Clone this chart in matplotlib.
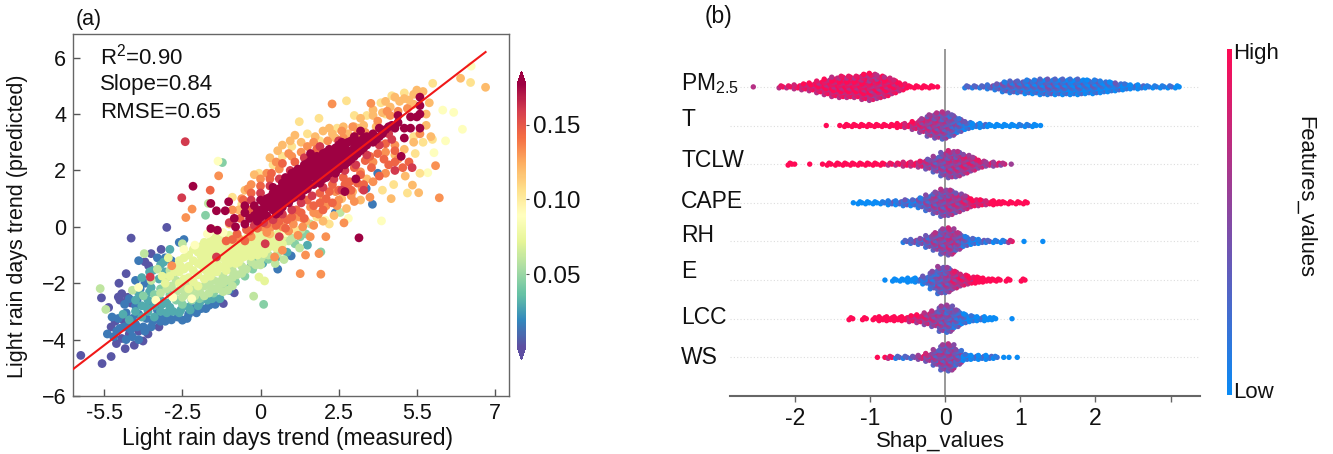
import numpy as np
import matplotlib
matplotlib.use("Agg")
import matplotlib.pyplot as plt
from matplotlib.colors import LinearSegmentedColormap, Normalize

plt.rcParams['font.family'] = ['Liberation Sans', 'DejaVu Sans']
plt.rcParams['mathtext.default'] = 'regular'

# ---------- panel (a): points grouped by point-density level ----------
density_levels = [0.004, 0.015, 0.03, 0.045, 0.06, 0.072, 0.088, 0.105, 0.12, 0.132, 0.145, 0.16, 0.177]

pts_purple = [(-5.75,-4.56),(-5.07,-4.85),(-4.78,-4.6),(-5.09,-2.52),(-4.86,-2.86),(-4.53,-2.0),(-4.3,-1.66),(-4.14,-.4),
 (-3.0,-.02),(-3.18,-.8),(-3.5,-.95),(-3.7,-1.24),(-3.58,-1.38),(-4.55,-2.49),(-4.44,-2.37),(-4.78,-3.55),(-4.61,-4.14),
 (-4.33,-4.32),(-4.04,-4.2),(-3.76,-4.05),(-4.44,-3.96),(-4.2,-3.8),(-3.9,-3.7),(-3.6,-3.8),(-3.25,-3.55),(-4.65,-3.35),
 (-4.4,-3.3),(-0.84,-2.34),(-1.19,-2.72),(-4.25,-2.5),(-4.5,-2.6),(-4.15,-2.7)]
pts_blue = [(-4.6,-3.7),(-4.3,-4.0),(-4.1,-3.9),(-3.9,-4.0),(-4.7,-3.9),(-4.5,-3.6),(-4.25,-3.55),(-4.0,-3.45),(-3.75,-3.55),
 (-3.5,-3.55),(-3.3,-3.25),(-3.05,-3.35),(-2.85,-3.3),(-2.5,-3.31),(-2.16,-2.9),(-1.64,-2.78),(-1.45,-2.55),(-1.0,-2.25),
 (-1.9,-2.9),(-2.3,-3.1),(-4.0,-1.9),(-3.85,-2.2),(-3.95,-2.6),(-3.7,-2.0),(-3.9,-1.2),(-3.3,-1.1),(-3.05,-1.1),(-2.85,-1.2),
 (-2.6,-.55),(-2.45,-.45),(.98,-1.03),(3.58,.8),(2.39,.5),(3.38,1.36),(3.75,1.9),(.55,-1.5),(-.3,-1.4),
 (-4.9,-3.8),(-4.55,-3.25),(-4.35,-3.55),(-4.15,-3.65),(-3.95,-3.55),(-3.7,-3.7),(-3.45,-3.35),(-3.2,-3.35),(-3.65,-3.25),(-4.1,-3.25),
 (-4.3,-3.05),(-4.0,-2.8),(-4.2,-2.55),(-4.35,-2.75),(-4.75,-3.2),(-3.9,-3.1),(-2.65,-3.2),(-2.35,-3.25),(-2.05,-3.05),(-1.75,-2.9),
 (-1.45,-2.75),(-3.55,-2.75),(-3.3,-2.95),(-3.1,-3.25),(-2.95,-3.15)]
pts_teal = [(-4.4,-3.1),(-4.2,-3.3),(-4.0,-3.0),(-3.8,-3.2),(-3.6,-3.0),(-3.4,-3.2),(-3.2,-3.0),(-3.0,-3.05),(-2.8,-3.0),
 (-2.6,-3.05),(-2.3,-2.85),(-2.0,-2.8),(-3.8,-2.8),(-3.6,-2.6),(-3.4,-2.8),(-3.2,-2.6),(-3.0,-2.7),(-4.0,-2.6),(-3.55,-2.3),
 (-1.7,-2.6),(-1.3,-2.55),(-3.45,-1.55),(-3.1,-1.25),(1.5,-.65),(.07,-1.3),(.5,-1.1),(.85,-.9),
 (-3.3,-2.5),(-3.5,-2.15),(-3.9,-2.35),(-3.65,-2.85),(-3.15,-2.75),(-2.9,-2.85),(-2.55,-2.95),(-2.25,-2.95),(-1.95,-2.7),(-1.55,-2.55),
 (-3.25,-1.85),(-3.05,-1.6),(-3.8,-1.8),(-3.55,-1.6),(-3.2,-1.35),(-2.9,-.8)]
pts_tealgreen = [(-3.4,-2.4),(-3.2,-2.2),(-2.9,-2.4),(-2.7,-2.6),(-2.5,-2.75),(-2.2,-2.6),(-1.95,-2.55),(-3.75,-2.45),(-2.8,-1.7),
 (-1.5,-2.35),(-1.1,-2.1),(-.8,-1.95),(-.5,-1.75),(-.25,-1.5),(1.27,-.35),(1.93,-.89),(.1,-2.75),(-1.22,2.28),(-1.76,.41),
 (-.25,-1.2),(.25,-1.15),(.65,-.75),(1.1,-.6),(1.45,-.25)]
pts_green = [(-3.0,-2.2),(-3.0,-1.8),(-2.7,-2.3),(-2.7,-1.9),(-2.4,-2.4),(-2.4,-2.05),(-2.1,-2.45),(-2.1,-2.15),(-1.8,-2.1),
 (-1.8,-2.45),(-1.5,-1.9),(-1.5,-2.2),(-1.2,-1.75),(-1.2,-2.0),(-1.2,-2.3),(-.9,-1.55),(-.9,-1.8),(-.9,-2.1),(-.6,-1.4),(-.6,-1.65),
 (-.3,-1.25),(0,-1.15),(0,-1.35),(-5.13,-2.19),(-4.95,-2.93),(-4.1,-2.25),(-3.72,-.95),(-1.67,.83),(2.55,.51),(-.22,-2.46),
 (.75,-1.16),(.47,-1.3),(.9,-.5),(1.3,-.1),(1.6,.1),(-3.3,-1.5),(-3.5,-1.9),(-2.5,-.6),
 (-2.85,-2.1),(-2.55,-2.2),(-2.25,-2.35),(-1.95,-2.3),(-1.65,-2.05),(-1.35,-1.95),(-1.05,-1.9),(-.75,-1.7),(-.45,-1.5),(-.15,-1.35),
 (-3.2,-2.35),(-2.9,-1.55),(-2.5,-2.5),(-1.65,-2.35),(-1.35,-2.2),(-1.05,-2.25),(.25,-1.0),(.05,-1.05),(.55,-.95),(1.0,-.4),(1.25,-.75)]
pts_yellowgreen = [(-2.6,-1.2),(-2.6,-1.6),(-2.6,-2.0),(-2.3,-1.0),(-2.3,-1.4),(-2.3,-1.8),(-2.3,-2.2),(-2.0,-.9),(-2.0,-1.3),(-2.0,-1.7),
 (-2.0,-2.1),(-1.8,-.55),(-1.8,-.85),(-1.8,-1.15),(-1.8,-1.5),(-1.8,-1.85),(-1.6,-.5),(-1.6,-.8),(-1.6,-1.1),(-1.6,-1.4),(-1.6,-1.75),
 (-1.4,-.3),(-1.4,-.6),(-1.4,-.9),(-1.4,-1.3),(-1.4,-1.6),(-1.2,-.5),(-1.2,-.8),(-1.2,-1.1),(-1.2,-1.45),(-1.0,-.3),(-1.0,-.7),
 (-1.0,-1.0),(-1.0,-1.3),(-.8,-.7),(-.8,-1.0),(-.8,-1.3),(-.6,-.55),(-.6,-.85),(-.6,-1.1),(-.4,-.35),(-.4,-.65),(-.4,-.95),(-.2,-.3),
 (-.2,-.6),(-.2,-.9),(0,-.25),(0,-.55),(0,-.85),(.2,-.2),(.2,-.5),(.2,-.8),(.4,-.3),(.4,-.6),(.6,-.45),(.6,-.15),(.13,-1.92),(-.05,-1.78),
 (-2.95,-1.1),(-3.15,-1.75),(-2.7,-1.4),
 (-2.45,-1.1),(-2.45,-1.5),(-2.45,-1.85),(-2.15,-.8),(-2.15,-1.2),(-2.15,-1.55),(-2.15,-1.95),(-1.9,-.7),(-1.9,-1.05),(-1.9,-1.35),(-1.7,-.65),
 (-1.7,-1.0),(-1.7,-1.3),(-1.7,-1.6),(-1.5,-.45),(-1.5,-.7),(-1.5,-1.0),(-1.5,-1.3),(-1.5,-1.6),(-1.3,-.45),(-1.3,-.75),(-1.3,-1.05),(-1.3,-1.4),
 (-1.1,-.65),(-1.1,-.95),(-1.1,-1.25),(-1.1,-1.55),(-.9,-.55),(-.9,-.85),(-.9,-1.2),(-.7,-.7),(-.7,-1.0),(-.7,-1.25),(-.5,-.45),(-.5,-.75),(-.5,-1.05),
 (-.3,-.5),(-.3,-.8),(-.3,-1.05),(-.1,-.4),(-.1,-.7),(-.1,-1.0),(.1,-.35),(.1,-.65),(.1,-.95),(.3,-.4),(.3,-.7),(.5,-.5),(.5,-.75),(.7,-.35),(.7,-.6),
 (-2.75,-1.6),(-2.9,-1.75),(-3.05,-2.0),(-2.55,-1.4)]
pts_paleyellow = [(-2.1,-.65),(-1.7,-.25),(-1.5,-.1),(-1.2,-.2),(-2.45,-.8),(-2.8,-2.5),(-1.36,2.33),(2.81,.3),(2.07,.24),(3.87,.21),
 (6.74,5.7),(6.46,3.46),(6.18,4.06),(5.83,4.14),(5.92,3.05),(5.55,2.63),(5.35,1.92),(.8,-.2),(-3.9,-2.15),(-3.35,-2.6),(-2.2,-2.55)]
pts_cream = [(6.72,5.12),(5.51,5.09),(2.75,4.47),(1.87,3.85),(1.24,3.73),(5.2,3.0),(4.9,3.2),(5.5,3.1),(4.95,2.6),(3.9,1.3),(4.26,1.5),
 (3.0,3.95),(3.4,3.95),(3.85,4.4),(4.2,4.65),(4.6,4.75),(4.0,4.0),(1.5,3.3),(1.9,3.05),(2.45,3.5),(.7,2.5),(1.0,2.85),(.4,2.2),(-.05,1.9),
 (-.6,.8),(-.9,1.05),(5.1,1.9),(4.7,1.2),(1.1,-.1),(1.8,.35),(2.2,.1)]
pts_paleorange = [(6.4,5.27),(7.2,4.95),(5.06,1.21),(4.86,1.48),(4.63,1.8),(4.18,1.0),(5.0,4.85),(4.75,4.5),(4.45,4.45),(4.15,4.25),(3.9,4.05),
 (3.6,3.95),(3.3,3.6),(3.0,3.55),(2.65,3.55),(2.3,3.3),(2.0,3.4),(1.1,3.25),(.7,2.9),(.3,2.45),(-.2,1.85),(-.5,1.3),(-.7,.6),(-1.0,.1),
 (2.6,1.0),(2.95,1.25),(3.4,1.7),(1.45,.2),(.8,.3),(.3,-.25),(-.1,.05),(5.3,3.6),(5.45,3.2),
 (3.2,3.85),(3.6,4.15),(4.0,4.45),(4.3,4.6),(4.6,4.55),(4.9,4.7),(4.9,4.35),(3.7,3.55),(3.15,3.5),(2.8,3.3),(2.4,3.15),(2.2,3.5),(1.75,3.2),
 (1.3,3.0),(.95,3.05),(.55,2.7),(5.2,4.8),(5.4,4.4),(5.3,4.0),(4.9,3.0),(4.6,2.75),(4.3,2.55),(2.0,.2),(2.35,.4),(2.75,.65),(3.2,.95)]
pts_orange = [(2.29,4.36),(3.53,4.38),(5.6,2.17),(5.72,1.03),(-1.34,1.81),(-2.19,.63),(-2.39,.33),(-2.84,-1.38),(1.27,-1.66),(1.93,-1.68),
 (1.44,-1.0),(1.87,-.95),(.7,-.83),(.45,-1.07),(2.67,.14),(2.09,-.35),(1.59,-.35),(.9,-.15),(.35,.0),(.05,.0),(1.2,.35),(1.6,.7),(2.0,.95),
 (2.4,1.25),(2.8,1.55),(3.2,1.95),(3.6,2.3),(4.0,2.65),(4.3,2.9),(3.5,1.05),(3.0,.9),(2.45,.75),(1.85,.45),(1.35,.0),(.6,2.05),(.2,1.9),(-.3,1.5),
 (1.0,2.5),(1.5,2.85),(2.65,3.15),(3.1,3.3),(4.15,3.95),(4.7,4.2),(5.1,3.3),
 (.7,.0),(1.05,.1),(1.35,.3),(1.7,.5),(2.1,.75),(2.5,.95),(2.9,1.1),(3.25,1.35),(3.6,1.6),(4.0,1.9),(4.4,2.4),(1.2,-.3),(1.7,.05),(.2,-.2),(-.3,-.35),
 (-.7,-.4),(.0,1.7),(-.4,1.35),(.5,2.3),(.9,2.6),(1.3,2.65),(1.7,3.0),(2.15,3.05),(2.6,3.4),(2.95,3.55),(3.35,3.35),(3.75,3.75),(4.05,4.1),(4.4,4.1),
 (-.6,1.0),(-.9,.6)]
pts_orangered = [(.5,.05),(.85,.25),(1.15,.6),(1.5,.95),(1.9,1.2),(2.3,1.5),(2.65,1.75),(3.0,2.1),(3.35,2.35),(3.75,2.6),(4.1,2.2),(4.3,2.3),
 (3.8,1.8),(3.3,1.5),(2.9,1.3),(2.0,.6),(-.3,1.2),(.0,1.45),(.3,1.7),(-.15,.2),(-.45,-.1),(-.75,-.25),(-.9,-.45),(-.5,-.5),(-1.1,-.5),
 (.35,1.9),(.7,2.25),(1.1,2.3),(1.8,2.75),(-1.61,1.3),(2.3,.85),(4.55,2.1),(4.75,2.3),
 (.2,.1),(.6,.2),(1.0,.35),(1.3,.5),(1.7,.75),(2.1,1.0),(2.5,1.3),(2.85,1.6),(3.2,1.85),(3.55,2.1),(3.95,2.4),(4.3,2.7),(.8,-.05),(1.4,.3),(1.9,.85),
 (2.2,1.25),(2.7,1.5),(3.1,1.55),(3.5,2.5),(4.0,2.95),(-.55,.95),(-.3,.6),(-.65,.3),(-.35,-.15),(-.1,-.05)]
pts_red = [(-2.41,3.02),(-2.52,1.03),(-1.41,-1.07),(-3.53,-1.78),(-1.0,.15),(-.2,.05),(.1,.15),(.4,.25),(.7,.45),(1.0,.6),(1.3,.85),(1.65,1.1),
 (2.0,1.4),(2.35,1.7),(2.7,2.0),(3.05,2.2),(3.4,2.55),(3.8,2.9),(-.3,.95),(.0,1.2),(.3,1.45),(.6,1.7),(.95,2.0),(1.4,2.45),(1.9,2.85),
 (2.5,3.05),(3.1,2.95),(4.2,3.1),(3.3,1.3),(2.6,1.3),(.15,-.6),(.6,-.35),(4.3,2.0),(4.1,3.3),(4.85,2.1)]
pts_darkred = [(-1.59,.83),(-1.41,.57),(-1.13,.57),(-.84,.3),(-1.59,-.06),(-1.38,-.12),(-1.02,.89),(3.15,-.39),(-2.16,1.44),(-.8,.0),(-.5,.1),(-.5,.5),
 (-.5,.75),(-.2,.4),(-.2,.75),(0,.35),(0,.6),(0,.95),(.2,.4),(.2,.7),(.2,1.0),(.4,.6),(.4,.9),(.4,1.2),(.4,1.4),(.6,.55),(.6,.8),(.6,1.1),(.6,1.35),
 (.8,.9),(.8,1.2),(.8,1.5),(.8,1.75),(1.0,1.0),(1.0,1.3),(1.0,1.6),(1.0,1.9),(1.2,1.2),(1.2,1.5),(1.2,1.75),(1.2,2.05),(1.4,1.3),(1.4,1.6),(1.4,1.9),
 (1.4,2.2),(1.6,1.5),(1.6,1.8),(1.6,2.05),(1.6,2.35),(1.8,1.7),(1.8,1.95),(1.8,2.25),(1.8,2.5),(2.0,1.7),(2.0,2.0),(2.0,2.3),(2.0,2.6),(2.2,1.9),
 (2.2,2.15),(2.2,2.45),(2.2,2.75),(2.4,1.9),(2.4,2.2),(2.4,2.5),(2.4,2.8),(2.6,2.2),(2.6,2.45),(2.6,2.75),(2.6,3.0),(2.8,2.3),(2.8,2.6),(2.8,3.0),
 (3.0,2.5),(3.0,2.8),(3.0,3.2),(3.2,2.7),(3.2,3.05),(3.2,3.4),(3.4,2.9),(3.4,3.2),(3.6,3.0),(3.6,3.3),(3.8,3.2),(3.8,3.5),(4.0,3.45),(4.3,3.5),
 (4.6,3.5),(4.6,3.15),(4.4,3.7),(4.4,3.95),(4.8,3.9),(4.8,3.5),(5.1,3.5),(5.1,4.0),(5.1,4.6),(5.1,4.3),(5.0,3.9),(4.5,2.5),(3.05,1.7),(2.7,1.25),(1.6,2.6),
 (-.35,.3),(-.1,.55),(-.1,.2),(.1,.55),(.1,.85),(.3,.75),(.3,1.05),(.5,.45),(.5,.75),(.5,1.0),(.5,1.25),(.7,.7),(.7,1.0),(.7,1.25),(.7,1.55),(.9,.85),(.9,1.1),
 (.9,1.4),(.9,1.7),(1.1,1.05),(1.1,1.35),(1.1,1.65),(1.1,1.95),(1.3,1.1),(1.3,1.4),(1.3,1.7),(1.3,2.0),(1.5,1.35),(1.5,1.65),(1.5,1.95),(1.5,2.25),(1.7,1.5),
 (1.7,1.8),(1.7,2.15),(1.7,2.4),(1.9,1.55),(1.9,1.85),(1.9,2.15),(1.9,2.4),(2.1,1.75),(2.1,2.05),(2.1,2.35),(2.1,2.65),(2.3,2.0),(2.3,2.3),(2.3,2.6),(2.5,2.05),
 (2.5,2.35),(2.5,2.65),(2.5,2.9),(2.7,2.2),(2.7,2.55),(2.7,2.85),(2.9,2.4),(2.9,2.7),(2.9,3.05),(3.1,2.6),(3.1,2.95),(3.3,2.8),(3.3,3.15),(3.5,3.05),(3.7,3.1),
 (3.9,3.3),(4.1,3.55),(4.2,3.6)]
point_groups = [pts_purple, pts_blue, pts_teal, pts_tealgreen, pts_green, pts_yellowgreen, pts_paleyellow, pts_cream,
                pts_paleorange, pts_orange, pts_orangered, pts_red, pts_darkred]

fit_x = [-6.0, 7.2]
fit_y = [-5.05, 6.2]
x_tick_pos = [-5, -2.5, 0, 2.5, 5, 7.5]
x_tick_labels = ['-5.5', '-2.5', '0', '2.5', '5.5', '7']
y_ticks = [-6, -4, -2, 0, 2, 4, 6]
stats_lines = ['R$^2$=0.90', 'Slope=0.84', 'RMSE=0.65']

# ---------- panel (b): SHAP swarm per feature, (bin centre, dots in bin, share of high-value dots x10) ----------
feature_names = ['PM$_{2.5}$', 'T', 'TCLW', 'CAPE', 'RH', 'E', 'LCC', 'WS']
swarm_pm = [(-2.55,1,9),(-2.17,2,9),(-2.07,2,9),(-1.97,3,9),(-1.87,4,9),(-1.77,5,9),(-1.67,7,9),(-1.57,9,9),(-1.47,11,9),(-1.37,12,9),(-1.27,12,9),
 (-1.17,12,9),(-1.07,14,9),(-.97,15,8),(-.87,13,8),(-.77,11,9),(-.67,8,9),(-.57,5,9),(-.47,2,10),(-.37,2,10),(-.27,2,10),(-.17,2,10),(-.1,1,10),
 (.3,2,3),(.4,2,3),(.5,2,3),(.6,3,3),(.7,4,3),(.8,6,3),(.9,7,3),(1.0,7,3),(1.1,8,2),(1.2,8,2),(1.3,9,2),(1.4,9,3),(1.5,9,2),(1.6,9,2),(1.7,9,1),
 (1.8,9,2),(1.9,8,1),(2.0,8,2),(2.1,7,1),(2.2,6,1),(2.3,5,2),(2.4,4,1),(2.5,3,1),(2.6,3,1),(2.7,2,1),(2.8,2,1),(2.9,2,1),(3.0,2,2),(3.1,2,0)]
swarm_t = [(-1.58,1,10),(-1.4,1,10),(-1.3,2,10),(-1.2,2,10),(-1.1,2,10),(-1.0,2,10),(-.9,2,10),(-.8,2,10),(-.7,2,10),(-.6,3,10),(-.5,3,9),(-.4,5,8),
 (-.3,8,7),(-.2,12,6),(-.1,14,6),(0,15,5),(.1,12,4),(.2,8,3),(.3,5,2),(.4,3,1),(.5,3,1),(.6,2,0),(.7,2,0),(.8,2,0),(.9,2,0),(1.0,2,1),(1.1,2,1),(1.2,2,0),(1.27,1,0)]
swarm_tclw = [(-2.05,2,10),(-2.0,1,10),(-1.8,1,10),(-1.63,1,10),(-1.53,2,10),(-1.42,2,10),(-1.32,2,10),(-1.22,2,10),(-1.12,2,10),(-1.02,2,10),(-.92,2,10),
 (-.82,2,10),(-.72,2,9),(-.62,2,9),(-.52,3,9),(-.42,3,9),(-.32,4,8),(-.22,6,6),(-.12,9,5),(-.02,13,5),(.08,15,6),(.18,14,6),(.28,11,7),(.38,8,7),(.48,5,7),(.58,3,7),(.68,3,7),(.78,2,7),(.88,1,8)]
swarm_cape = [(-1.22,1,0),(-1.12,2,0),(-1.02,2,0),(-.92,2,0),(-.82,2,1),(-.72,3,2),(-.62,3,2),(-.52,4,3),(-.42,4,2),(-.32,6,3),(-.22,9,4),(-.12,12,5),(-.02,15,5),
 (.08,14,6),(.18,11,6),(.28,8,7),(.38,5,9),(.48,4,9),(.58,3,9),(.68,3,10),(.78,2,10),(.88,2,10),(.98,2,10),(1.08,2,10)]
swarm_rh = [(-.52,2,3),(-.42,3,4),(-.32,4,4),(-.22,7,4),(-.12,10,5),(-.02,14,5),(.08,15,6),(.18,10,5),(.28,6,3),(.38,4,2),(.48,3,2),(.58,2,3),(.68,2,1),(.78,2,1),(.88,2,8),(1.05,1,0),(1.3,1,0)]
swarm_e = [(-.8,1,0),(-.66,2,0),(-.56,2,0),(-.46,3,0),(-.36,3,1),(-.26,5,2),(-.16,10,3),(-.06,15,4),(.04,14,5),(.14,10,7),(.24,7,8),(.34,5,9),(.44,4,10),(.54,3,10),(.64,2,10),(.72,2,10),(.85,2,10),(1.05,2,10)]
swarm_lcc = [(-1.24,2,10),(-1.06,2,10),(-.92,2,10),(-.84,3,10),(-.74,3,10),(-.64,3,10),(-.54,3,10),(-.44,4,9),(-.34,5,8),(-.24,7,7),(-.14,9,6),(-.04,14,5),(.06,15,4),(.16,10,3),(.26,6,2),(.36,4,1),(.46,3,1),(.56,3,0),(.66,2,0),(.89,1,0)]
swarm_ws = [(-.9,1,10),(-.8,1,10),(-.72,2,9),(-.62,2,3),(-.52,2,3),(-.42,2,4),(-.32,3,7),(-.22,5,6),(-.12,9,5),(-.02,14,5),(.08,15,5),(.18,9,4),(.28,4,1),(.38,3,1),(.48,3,1),(.58,3,1),(.68,2,1),(.78,1,0),(.85,1,0),(.96,1,0)]
swarms = [swarm_pm, swarm_t, swarm_tclw, swarm_cape, swarm_rh, swarm_e, swarm_lcc, swarm_ws]
shap_ticks = [-2, -1, 0, 1, 2, 3]
shap_tick_labels = ['-2', '-1', '0', '1', '2', '']

W, H = 1333, 454
fig = plt.figure(figsize=(W / 100, H / 100), dpi=100)


def axes_px(l, t, r, b):
    return fig.add_axes([l / W, 1 - b / H, (r - l) / W, (b - t) / H])


def fig_text(x, y, s, **kw):
    return fig.text(x / W, 1 - y / H, s, **kw)


INK = '#111111'

# ---------- (a) ----------
ax = axes_px(73, 34, 509, 396)
cmap_a = plt.get_cmap('Spectral_r')
norm_a = Normalize(0.0013, 0.177)
for group, level in zip(point_groups, density_levels):
    xs = [p[0] for p in group]
    ys = [p[1] for p in group]
    ax.scatter(xs, ys, s=40, c=[level] * len(group), cmap=cmap_a, norm=norm_a, linewidths=0, zorder=2)
ax.plot(fit_x, fit_y, color='#f01818', lw=1.5, zorder=3)
ax.set_xlim(-6.0, 7.95)
ax.set_ylim(-6, 6.84)
ax.set_xticks(x_tick_pos)
ax.set_xticklabels(x_tick_labels)
ax.set_yticks(y_ticks)
ax.tick_params(direction='in', length=5, width=1, color='#555555', labelsize=15.5, pad=5, labelcolor=INK)
for s in ax.spines.values():
    s.set_color('#666666')
    s.set_linewidth(1)
for y, line in zip([57, 84.5, 112], stats_lines):
    fig_text(100, y, line, fontsize=16, va='center', ha='left', color=INK)
fig_text(288, 438, 'Light rain days trend (measured)', fontsize=16.5, ha='center', va='center', color=INK)
fig_text(18, 226, 'Light rain days trend (predicted)', fontsize=15.5, ha='center', va='center', rotation=90, color=INK)
fig_text(76, 19, '(a)', fontsize=15.5, ha='left', va='center', color=INK)

cax = axes_px(517, 71, 526, 360)
cb = fig.colorbar(plt.cm.ScalarMappable(norm=norm_a, cmap=cmap_a), cax=cax, extend='both', ticks=[0.05, 0.10, 0.15])
cb.ax.set_yticklabels(['0.05', '0.10', '0.15'])
cb.ax.tick_params(length=2, width=0.8, labelsize=17.5, pad=3, color='#555555', labelcolor=INK)
cb.outline.set_visible(False)

# ---------- (b) ----------
bx = axes_px(730, 49, 1200, 396)
cmap_b = LinearSegmentedColormap.from_list('shap', ['#0a8bf5', '#ff0a55'])
n_rows = len(feature_names)
row_pos = list(range(n_rows - 1, -1, -1))
stack_pattern = [-1.0, 0.5, 0.0, 1.0, -0.5]
x_pattern = [-0.0375, 0.0125, -0.0125, 0.0375]
y_step = 0.025
for rp, swarm in zip(row_pos, swarms):
    bx.plot([-2.86, 3.39], [rp, rp], ls=(0, (1, 2)), color='#dddddd', lw=0.8, zorder=0)
    sx, sy, sc_v = [], [], []
    for centre, count, level in swarm:
        m = 2 * count - 1
        for i in range(m):
            sx.append(centre + (x_pattern[i % 4] if count > 1 else 0))
            sy.append(rp + (i - (m - 1) / 2) * y_step)
            sc_v.append(min(1, max(0, level / 10 + 0.2 * stack_pattern[i % 5] * (0 < level < 10))))
    bx.scatter(sx, sy, s=15, c=sc_v, cmap=cmap_b, vmin=0, vmax=1, linewidths=0, zorder=2)
bx.axvline(0, color='#888888', lw=1.2, zorder=1)
bx.set_xlim(-2.86, 3.39)
bx.set_ylim(-1, 7.98)
bx.set_xticks(shap_ticks)
bx.set_xticklabels(shap_tick_labels)
bx.set_yticks([])
for k in ('left', 'right', 'top'):
    bx.spines[k].set_visible(False)
bx.spines['bottom'].set_color('#666666')
bx.spines['bottom'].set_linewidth(1.5)
bx.tick_params(axis='x', length=4, width=1, color='#666666', labelsize=16.5, pad=4, labelcolor=INK)
label_y = [84, 120, 160, 201, 235, 271, 317, 357]
for name, y in zip(feature_names, label_y):
    fig_text(681, y, name, fontsize=16.5, ha='left', va='center', color=INK)
fig_text(940, 441, 'Shap_values', fontsize=16, ha='center', va='center', color=INK)
fig_text(705, 16, '(b)', fontsize=16.5, ha='left', va='center', color=INK)
fig_text(1233, 53, 'High', fontsize=16, ha='left', va='center', color=INK)
fig_text(1233, 393, 'Low', fontsize=16, ha='left', va='center', color=INK)
fig_text(1305, 197, 'Features_values', fontsize=15.8, ha='center', va='center', rotation=270, color=INK)

gax = axes_px(1227, 49, 1232, 395)
gax.imshow(np.linspace(1, 0, 256)[:, None], aspect='auto', cmap=cmap_b, vmin=0, vmax=1)
gax.axis('off')

fig.savefig('out.png', dpi=100)
